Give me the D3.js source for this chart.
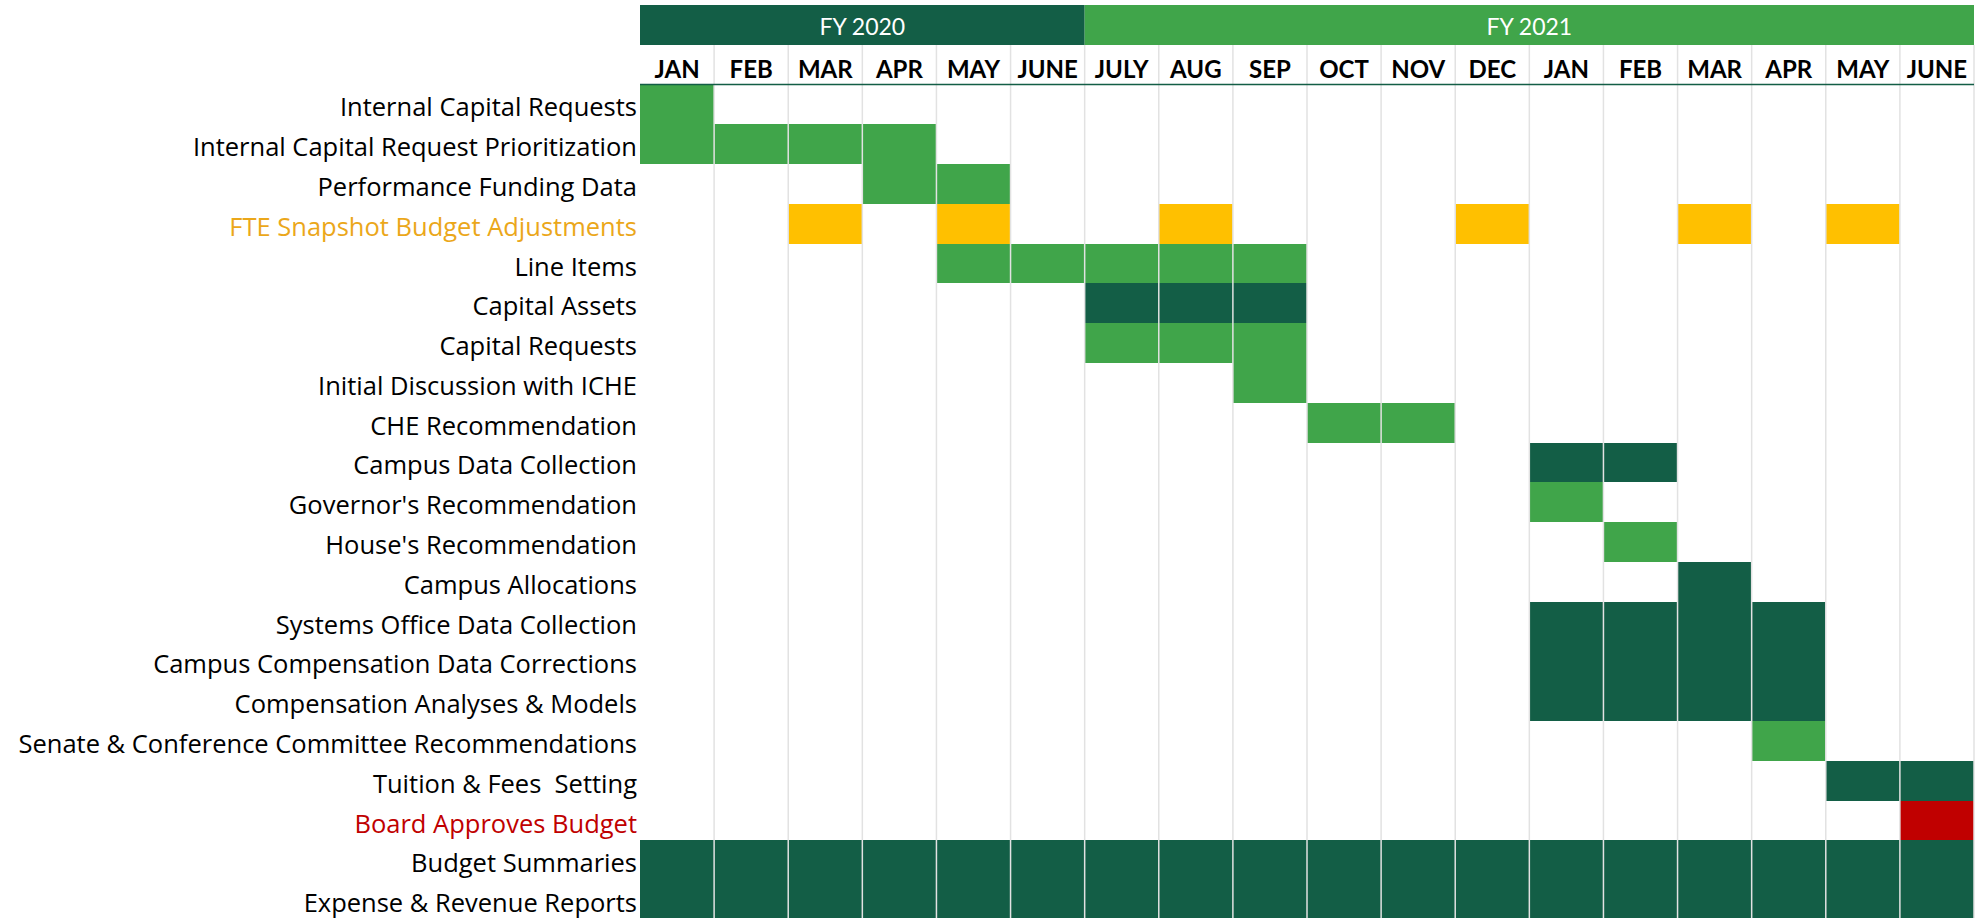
<!DOCTYPE html>
<html>
<head>
<meta charset="utf-8">
<script src="https://cdn.jsdelivr.net/npm/d3@7"></script>
<style>
  html, body { margin: 0; padding: 0; background: #fff; }
  svg { display: block; }
</style>
</head>
<body>
<svg id="chart" width="1980" height="918"></svg>
<script>
// months across the two fiscal years
const months = ['JAN', 'FEB', 'MAR', 'APR', 'MAY', 'JUNE', 'JULY', 'AUG', 'SEP', 'OCT', 'NOV', 'DEC',
  'JAN', 'FEB', 'MAR', 'APR', 'MAY', 'JUNE']

const fyLabels = ['FY 2020', 'FY 2021']
const fyStart = [0, 6]
const fyEnd = [5, 17]

const tasks = [
  'Internal Capital Requests',
  'Internal Capital Request Prioritization',
  'Performance Funding Data',
  'FTE Snapshot Budget Adjustments',
  'Line Items',
  'Capital Assets',
  'Capital Requests',
  'Initial Discussion with ICHE',
  'CHE Recommendation',
  'Campus Data Collection',
  "Governor's Recommendation",
  "House's Recommendation",
  'Campus Allocations',
  'Systems Office Data Collection',
  'Campus Compensation Data Corrections',
  'Compensation Analyses & Models',
  'Senate & Conference Committee Recommendations',
  'Tuition & Fees  Setting',
  'Board Approves Budget',
  'Budget Summaries',
  'Expense & Revenue Reports'
]

// [task, first month index, last month index, kind]
const spans = [
  ['Internal Capital Requests', 0, 0, 'activity'],
  ['Internal Capital Request Prioritization', 0, 3, 'activity'],
  ['Performance Funding Data', 3, 4, 'activity'],
  ['FTE Snapshot Budget Adjustments', 2, 2, 'snapshot'],
  ['FTE Snapshot Budget Adjustments', 4, 4, 'snapshot'],
  ['FTE Snapshot Budget Adjustments', 7, 7, 'snapshot'],
  ['FTE Snapshot Budget Adjustments', 11, 11, 'snapshot'],
  ['FTE Snapshot Budget Adjustments', 14, 14, 'snapshot'],
  ['FTE Snapshot Budget Adjustments', 16, 16, 'snapshot'],
  ['Line Items', 4, 8, 'activity'],
  ['Capital Assets', 6, 8, 'core'],
  ['Capital Requests', 6, 8, 'activity'],
  ['Initial Discussion with ICHE', 8, 8, 'activity'],
  ['CHE Recommendation', 9, 10, 'activity'],
  ['Campus Data Collection', 12, 13, 'core'],
  ["Governor's Recommendation", 12, 12, 'activity'],
  ["House's Recommendation", 13, 13, 'activity'],
  ['Campus Allocations', 14, 14, 'core'],
  ['Systems Office Data Collection', 12, 15, 'core'],
  ['Campus Compensation Data Corrections', 12, 15, 'core'],
  ['Compensation Analyses & Models', 12, 15, 'core'],
  ['Senate & Conference Committee Recommendations', 15, 15, 'activity'],
  ['Tuition & Fees  Setting', 16, 17, 'core'],
  ['Board Approves Budget', 17, 17, 'approval'],
  ['Budget Summaries', 0, 17, 'core'],
  ['Expense & Revenue Reports', 0, 17, 'core']
]

// labels drawn in a highlight colour
const labelKinds = {
  'FTE Snapshot Budget Adjustments': 'snapshot',
  'Board Approves Budget': 'approval'
}

const DARK = '#135e46'
const LIGHT = '#40a54a'

const fill = d3.scaleOrdinal()
  .domain(['activity', 'core', 'snapshot', 'approval'])
  .range([LIGHT, DARK, '#ffc000', '#c00000'])

const labelColor = d3.scaleOrdinal()
  .domain(['plain', 'snapshot', 'approval'])
  .range(['#000', '#eba71a', '#c00000'])

const HEAD_FONT = 'Lato, "Open Sans", sans-serif'
const LABEL_FONT = '"Open Sans", "Noto Sans", sans-serif'

const svg = d3.select('#chart')

const x = d3.scaleBand()
  .domain(d3.range(months.length))
  .range([640, 1974])

const y = d3.scaleBand()
  .domain(tasks)
  .range([84.5, 920])

// fiscal year band
const fy = svg.append('g').attr('class', 'fy')
  .selectAll('g')
  .data(fyLabels)
  .enter().append('g')

fy.append('rect')
  .attr('x', function (d, i) { return x(fyStart[i]) })
  .attr('y', 5)
  .attr('width', function (d, i) { return x(fyEnd[i]) + x.bandwidth() - x(fyStart[i]) })
  .attr('height', 40)
  .attr('fill', function (d, i) { return i === 0 ? DARK : LIGHT })

fy.append('text')
  .attr('x', function (d, i) { return (x(fyStart[i]) + x(fyEnd[i]) + x.bandwidth()) / 2 })
  .attr('y', 35)
  .attr('text-anchor', 'middle')
  .attr('fill', '#fff')
  .style('font-family', HEAD_FONT)
  .style('font-size', '23px')
  .text(function (d) { return d })

// task cells
svg.append('g').attr('class', 'cells')
  .attr('shape-rendering', 'crispEdges')
  .selectAll('rect')
  .data(spans)
  .enter().append('rect')
  .attr('x', function (d) { return Math.round(x(d[1])) })
  .attr('y', function (d) { return Math.round(y(d[0])) })
  .attr('width', function (d) { return Math.round(x(d[2]) + x.bandwidth()) - Math.round(x(d[1])) })
  .attr('height', function (d) { return Math.round(y(d[0]) + y.bandwidth()) - Math.round(y(d[0])) })
  .attr('fill', function (d) { return fill(d[3]) })

// vertical grid lines, drawn over the cells
svg.append('g').attr('class', 'grid')
  .selectAll('line')
  .data(d3.range(1, months.length + 1))
  .enter().append('line')
  .attr('x1', function (d) { return d < months.length ? x(d) : x(d - 1) + x.bandwidth() })
  .attr('x2', function (d) { return d < months.length ? x(d) : x(d - 1) + x.bandwidth() })
  .attr('y1', 45)
  .attr('y2', 918)
  .attr('stroke', '#e2e2e2')
  .attr('stroke-width', 1.5)

// month header
svg.append('g').attr('class', 'months')
  .selectAll('text')
  .data(months)
  .enter().append('text')
  .attr('x', function (d, i) { return x(i) + x.bandwidth() / 2 })
  .attr('y', 78)
  .attr('text-anchor', 'middle')
  .style('font-family', HEAD_FONT)
  .style('font-weight', 'bold')
  .style('font-size', '24px')
  .text(function (d) { return d })

svg.append('line')
  .attr('x1', x(0))
  .attr('x2', x(months.length - 1) + x.bandwidth())
  .attr('y1', 84.5)
  .attr('y2', 84.5)
  .attr('stroke', DARK)
  .attr('stroke-width', 1.5)

// task labels
svg.append('g').attr('class', 'labels')
  .selectAll('text')
  .data(tasks)
  .enter().append('text')
  .attr('x', 637)
  .attr('y', function (d) { return y(d) + y.bandwidth() / 2 + 12 })
  .attr('text-anchor', 'end')
  .attr('fill', function (d) { return labelColor(labelKinds[d] || 'plain') })
  .style('font-family', LABEL_FONT)
  .style('font-size', '25.5px')
  .style('white-space', 'pre')
  .text(function (d) { return d })
</script>
</body>
</html>
